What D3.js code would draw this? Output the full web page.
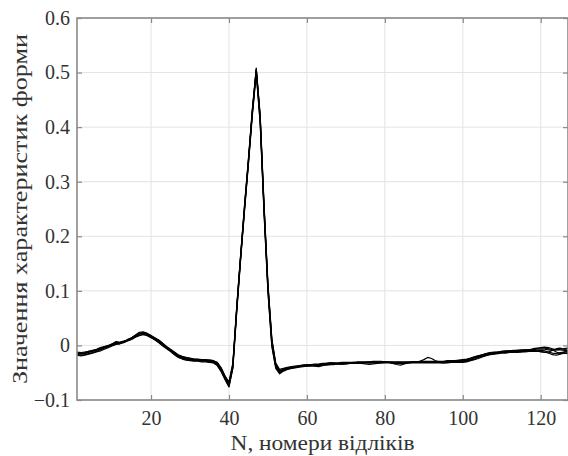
<!DOCTYPE html>
<html>
<head>
<meta charset="utf-8">
<script src="https://cdn.jsdelivr.net/npm/d3@7"></script>
<style>
  body { margin: 0; background: #fff; }
  svg { display: block; }
</style>
</head>
<body>
<svg id="chart" width="568" height="456"></svg>
<script>
// tick labels / axis text
const xTicks = [20, 40, 60, 80, 100, 120];
const yTicks = [-0.1, 0, 0.1, 0.2, 0.3, 0.4, 0.5, 0.6];
const xLabel = "N, номери відліків";
const yLabel = "Значення характеристик форми";

// сигнали (відліки 1..127)
const s1 = [-0.014,-0.015,-0.014,-0.012,-0.010,-0.008,-0.006,-0.003,-0.001,0.002,
  0.005,0.006,0.008,0.010,0.013,0.018,0.022,0.023,0.021,0.017,
  0.013,0.009,0.003,-0.003,-0.008,-0.013,-0.019,-0.022,-0.024,-0.025,
  -0.026,-0.027,-0.027,-0.028,-0.028,-0.029,-0.033,-0.043,-0.058,-0.071,
  -0.035,0.070,0.165,0.255,0.340,0.430,0.505,0.420,0.255,0.110,
  0.010,-0.035,-0.046,-0.043,-0.041,-0.040,-0.039,-0.038,-0.037,-0.036,
  -0.036,-0.035,-0.035,-0.034,-0.034,-0.033,-0.033,-0.033,-0.032,-0.032,
  -0.032,-0.032,-0.031,-0.031,-0.031,-0.031,-0.030,-0.030,-0.030,-0.030,
  -0.030,-0.030,-0.031,-0.031,-0.030,-0.030,-0.030,-0.030,-0.030,-0.030,
  -0.030,-0.030,-0.030,-0.030,-0.030,-0.029,-0.029,-0.029,-0.029,-0.028,
  -0.027,-0.025,-0.022,-0.020,-0.018,-0.016,-0.014,-0.013,-0.012,-0.011,
  -0.011,-0.010,-0.010,-0.009,-0.009,-0.008,-0.008,-0.008,-0.007,-0.007,
  -0.007,-0.008,-0.009,-0.008,-0.008,-0.009,-0.010];
const s2 = [-0.017,-0.018,-0.017,-0.015,-0.013,-0.011,-0.008,-0.005,-0.002,0.000,
  0.003,0.004,0.006,0.009,0.012,0.016,0.019,0.020,0.019,0.015,
  0.011,0.006,0.001,-0.005,-0.010,-0.016,-0.021,-0.024,-0.026,-0.027,
  -0.028,-0.028,-0.029,-0.029,-0.030,-0.031,-0.036,-0.047,-0.062,-0.075,
  -0.040,0.065,0.160,0.250,0.335,0.425,0.500,0.410,0.245,0.100,
  0.000,-0.040,-0.050,-0.046,-0.043,-0.042,-0.040,-0.039,-0.038,-0.038,
  -0.037,-0.037,-0.036,-0.036,-0.035,-0.035,-0.034,-0.034,-0.033,-0.033,
  -0.033,-0.033,-0.033,-0.032,-0.032,-0.032,-0.032,-0.031,-0.031,-0.031,
  -0.031,-0.032,-0.033,-0.033,-0.032,-0.031,-0.031,-0.031,-0.031,-0.031,
  -0.031,-0.031,-0.031,-0.031,-0.032,-0.031,-0.031,-0.030,-0.030,-0.030,
  -0.029,-0.027,-0.025,-0.022,-0.020,-0.018,-0.016,-0.015,-0.014,-0.013,
  -0.013,-0.012,-0.012,-0.011,-0.011,-0.011,-0.010,-0.010,-0.010,-0.009,
  -0.010,-0.012,-0.014,-0.015,-0.013,-0.012,-0.013];
const s3 = [-0.016,-0.016,-0.015,-0.013,-0.011,-0.009,-0.007,-0.004,-0.001,0.001,
  0.004,0.003,0.007,0.010,0.014,0.019,0.024,0.025,0.022,0.018,
  0.012,0.007,0.002,-0.004,-0.009,-0.015,-0.020,-0.023,-0.025,-0.026,
  -0.027,-0.026,-0.028,-0.027,-0.029,-0.030,-0.035,-0.045,-0.060,-0.073,
  -0.038,0.068,0.163,0.252,0.338,0.428,0.508,0.418,0.252,0.106,
  0.006,-0.038,-0.048,-0.044,-0.042,-0.040,-0.040,-0.039,-0.037,-0.037,
  -0.036,-0.036,-0.035,-0.034,-0.033,-0.032,-0.033,-0.034,-0.033,-0.032,
  -0.032,-0.031,-0.032,-0.032,-0.031,-0.030,-0.030,-0.031,-0.030,-0.030,
  -0.031,-0.031,-0.030,-0.030,-0.031,-0.031,-0.030,-0.030,-0.029,-0.026,
  -0.022,-0.024,-0.028,-0.030,-0.031,-0.030,-0.029,-0.029,-0.028,-0.027,
  -0.026,-0.024,-0.021,-0.019,-0.017,-0.015,-0.013,-0.012,-0.012,-0.011,
  -0.010,-0.010,-0.009,-0.009,-0.008,-0.008,-0.009,-0.008,-0.006,-0.004,
  -0.003,-0.004,-0.006,-0.008,-0.007,-0.006,-0.005];
const s4 = [-0.013,-0.014,-0.013,-0.011,-0.009,-0.007,-0.004,-0.002,0.000,0.003,
  0.006,0.005,0.007,0.009,0.012,0.017,0.021,0.022,0.020,0.016,
  0.012,0.008,0.002,-0.004,-0.009,-0.014,-0.018,-0.021,-0.023,-0.024,
  -0.025,-0.025,-0.026,-0.026,-0.027,-0.028,-0.032,-0.042,-0.056,-0.067,
  -0.032,0.072,0.167,0.258,0.343,0.433,0.507,0.423,0.258,0.113,
  0.012,-0.032,-0.044,-0.042,-0.040,-0.039,-0.038,-0.037,-0.036,-0.036,
  -0.035,-0.034,-0.034,-0.033,-0.033,-0.032,-0.032,-0.032,-0.031,-0.031,
  -0.031,-0.031,-0.030,-0.030,-0.030,-0.030,-0.029,-0.029,-0.029,-0.030,
  -0.031,-0.033,-0.035,-0.036,-0.034,-0.032,-0.031,-0.030,-0.029,-0.029,
  -0.029,-0.029,-0.029,-0.029,-0.029,-0.028,-0.028,-0.028,-0.027,-0.026,
  -0.025,-0.023,-0.021,-0.019,-0.017,-0.015,-0.014,-0.013,-0.013,-0.012,
  -0.011,-0.011,-0.012,-0.013,-0.012,-0.010,-0.008,-0.006,-0.005,-0.005,
  -0.005,-0.006,-0.008,-0.012,-0.015,-0.012,-0.010];
const s5 = [-0.018,-0.019,-0.018,-0.016,-0.014,-0.012,-0.010,-0.007,-0.004,-0.001,
  0.002,0.003,0.005,0.008,0.011,0.015,0.018,0.020,0.018,0.014,
  0.010,0.005,-0.001,-0.006,-0.011,-0.017,-0.022,-0.025,-0.027,-0.028,
  -0.029,-0.029,-0.030,-0.030,-0.031,-0.032,-0.037,-0.048,-0.063,-0.076,
  -0.042,0.062,0.158,0.248,0.333,0.422,0.498,0.408,0.242,0.098,
  -0.002,-0.042,-0.052,-0.047,-0.044,-0.042,-0.041,-0.040,-0.039,-0.038,
  -0.038,-0.037,-0.037,-0.036,-0.036,-0.035,-0.035,-0.034,-0.034,-0.034,
  -0.033,-0.033,-0.033,-0.033,-0.032,-0.032,-0.032,-0.032,-0.032,-0.032,
  -0.032,-0.032,-0.032,-0.032,-0.032,-0.032,-0.032,-0.032,-0.032,-0.032,
  -0.032,-0.032,-0.032,-0.032,-0.032,-0.032,-0.031,-0.031,-0.031,-0.031,
  -0.030,-0.028,-0.026,-0.024,-0.021,-0.019,-0.017,-0.016,-0.015,-0.014,
  -0.014,-0.013,-0.013,-0.012,-0.012,-0.012,-0.011,-0.011,-0.011,-0.011,
  -0.012,-0.014,-0.017,-0.018,-0.016,-0.014,-0.015];
const s6 = [-0.012,-0.013,-0.012,-0.011,-0.010,-0.008,-0.005,-0.003,-0.001,0.002,
  0.007,0.005,0.007,0.011,0.014,0.018,0.021,0.023,0.022,0.018,
  0.014,0.010,0.004,-0.002,-0.007,-0.012,-0.017,-0.020,-0.022,-0.023,
  -0.025,-0.026,-0.026,-0.027,-0.027,-0.028,-0.031,-0.041,-0.057,-0.069,
  -0.036,0.068,0.164,0.254,0.339,0.429,0.504,0.416,0.250,0.108,
  0.008,-0.036,-0.047,-0.045,-0.043,-0.041,-0.040,-0.038,-0.036,-0.035,
  -0.036,-0.038,-0.039,-0.037,-0.034,-0.033,-0.033,-0.034,-0.035,-0.034,
  -0.033,-0.032,-0.032,-0.033,-0.034,-0.035,-0.034,-0.033,-0.032,-0.031,
  -0.031,-0.031,-0.032,-0.033,-0.033,-0.032,-0.031,-0.030,-0.030,-0.030,
  -0.030,-0.030,-0.030,-0.030,-0.030,-0.030,-0.030,-0.029,-0.029,-0.029,
  -0.028,-0.026,-0.023,-0.021,-0.019,-0.018,-0.016,-0.015,-0.014,-0.013,
  -0.012,-0.012,-0.011,-0.010,-0.010,-0.009,-0.009,-0.009,-0.010,-0.012,
  -0.013,-0.012,-0.009,-0.006,-0.005,-0.007,-0.009];
const series = [s1, s2, s3, s4, s5, s6];

const FONT = '"Liberation Serif"';
const svg = d3.select("#chart");
const W = 568, H = 456;
const margin = {left: 77, top: 18, right: 0, bottom: 56};
const iw = W - margin.left - margin.right;
const ih = H - margin.top - margin.bottom;

const x = d3.scaleLinear().domain([1, 127]).range([0, iw]);
const y = d3.scaleLinear().domain([-0.1, 0.6]).range([ih, 0]);

const g = svg.append("g").attr("transform", `translate(${margin.left},${margin.top})`);

// сітка
g.append("g").selectAll("line").data(xTicks).enter().append("line")
  .attr("x1", d => x(d)).attr("x2", d => x(d))
  .attr("y1", 0).attr("y2", ih)
  .attr("stroke", "#e3e3e3").attr("stroke-width", 1);
g.append("g").selectAll("line").data(yTicks).enter().append("line")
  .attr("y1", d => y(d)).attr("y2", d => y(d))
  .attr("x1", 0).attr("x2", iw)
  .attr("stroke", "#e3e3e3").attr("stroke-width", 1);

// лінії
g.append("clipPath").attr("id", "clip").append("rect")
  .attr("x", 0).attr("y", 0).attr("width", iw).attr("height", ih);
const line = d3.line().x((d, i) => x(i + 1)).y(d => y(d));
g.append("g").attr("clip-path", "url(#clip)")
  .selectAll("path").data(series).enter().append("path")
  .attr("d", line)
  .attr("fill", "none")
  .attr("stroke", "#000")
  .attr("stroke-width", 1.2)
  .attr("stroke-linejoin", "round");

// осі
const axisColor = "#8a8a8a";
const fmtY = d => d === 0 ? "0" : d3.format(".1f")(d);
const styleAxis = sel => {
  sel.attr("font-family", null).attr("font-size", null);
  sel.select(".domain").remove();
  sel.selectAll(".tick line").attr("stroke", axisColor).attr("stroke-width", 1.2);
  sel.selectAll(".tick text").attr("fill", "#333")
    .style("font-size", "20px")
    .style("font-family", FONT);
};
g.append("g").attr("transform", `translate(0,${ih})`)
  .call(d3.axisBottom(x).tickValues(xTicks).tickSize(-5).tickPadding(11))
  .call(styleAxis);
g.append("g").call(d3.axisTop(x).tickValues(xTicks).tickSize(-5).tickFormat(""))
  .call(styleAxis);
g.append("g")
  .call(d3.axisLeft(y).tickValues(yTicks).tickSize(-5).tickPadding(7).tickFormat(fmtY))
  .call(styleAxis);
g.append("g").attr("transform", `translate(${iw},0)`)
  .call(d3.axisRight(y).tickValues(yTicks).tickSize(-5).tickFormat(""))
  .call(styleAxis);

// рамка
g.append("rect").attr("x", 0).attr("y", 0).attr("width", iw).attr("height", ih)
  .attr("fill", "none").attr("stroke", axisColor).attr("stroke-width", 1.6);

// підписи осей
svg.append("text")
  .attr("x", margin.left + iw / 2).attr("y", 450)
  .attr("text-anchor", "middle").attr("fill", "#333")
  .style("font-size", "21px").style("font-family", FONT)
  .attr("textLength", 184).attr("lengthAdjust", "spacingAndGlyphs")
  .text(xLabel);
svg.append("text")
  .attr("transform", `translate(27,${margin.top + ih / 2}) rotate(-90)`)
  .attr("text-anchor", "middle").attr("fill", "#333")
  .style("font-size", "21px").style("font-family", FONT)
  .attr("textLength", 350).attr("lengthAdjust", "spacingAndGlyphs")
  .text(yLabel);
</script>
</body>
</html>
